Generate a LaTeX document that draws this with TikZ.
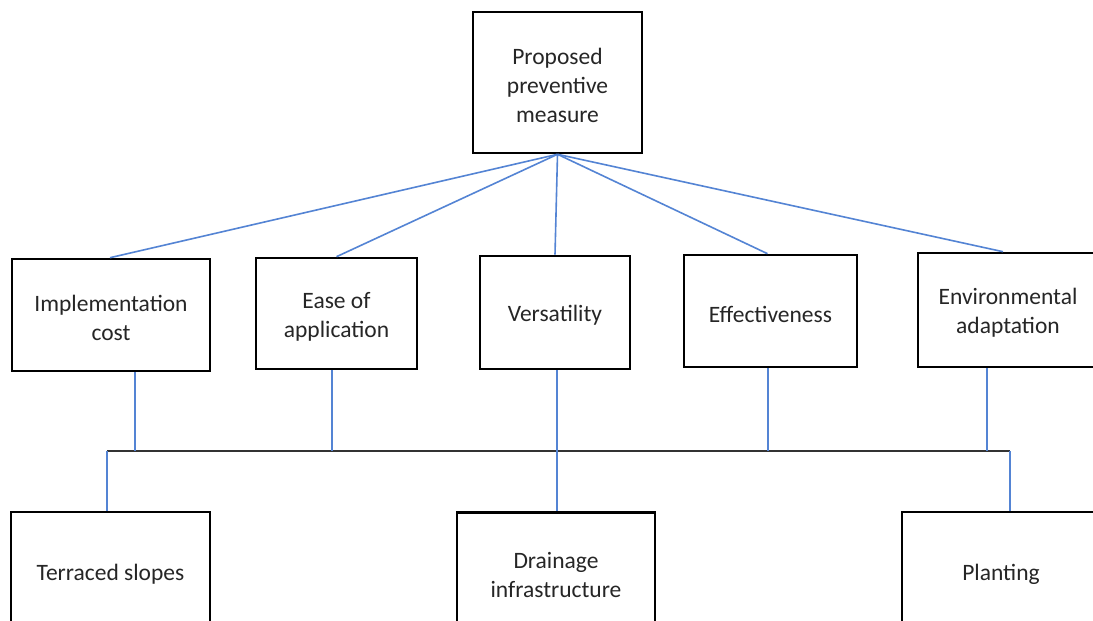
\documentclass[tikz,border=0pt]{standalone}
\usepackage{fontspec}
\setmainfont{Carlito}
\definecolor{linkblue}{RGB}{84,132,212}
\definecolor{txt}{RGB}{38,38,38}
\begin{document}
\begin{tikzpicture}[x=1pt,y=-1pt,
  box/.style={draw=black,line width=2.6pt,rectangle,inner sep=0pt},
  lab/.style={inner sep=0pt,align=center,yshift=-3pt,
    font=\fontsize{23.5}{29}\selectfont,text=txt},
  link/.style={draw=linkblue,line width=1.6pt},
  bus/.style={draw=black!80,line width=1.5pt}]
\clip (0,0) rectangle (1093,621);
\fill[white] (0,0) rectangle (1093,621);
% top
\node[box,minimum width=169pt,minimum height=141pt,label={[lab]center:Proposed\\preventive\\measure}] (top) at (557.5,82.5) {};
% criteria
\node[box,minimum width=198pt,minimum height=112pt,label={[lab]center:Implementation\\cost}] (impl) at (111,315) {};
\node[box,minimum width=161pt,minimum height=111pt,label={[lab]center:Ease of\\application}] (ease) at (336.5,313.5) {};
\node[box,minimum width=150pt,minimum height=113pt,label={[lab]center:Versatility}] (vers) at (555,312.5) {};
\node[box,minimum width=173pt,minimum height=112pt,label={[lab]center:Effectiveness}] (eff) at (770.5,311) {};
\node[box,minimum width=180pt,minimum height=114pt,label={[lab]center:Environmental\\adaptation}] (env) at (1008,310) {};
% alternatives
\node[box,minimum width=199pt,minimum height=118pt,label={[lab]center:Terraced slopes}] (terr) at (110.5,571) {};
\node[box,minimum width=198pt,minimum height=118pt,label={[lab]center:Drainage\\infrastructure}] (drain) at (556,571.5) {};
\node[box,minimum width=198pt,minimum height=118pt,label={[lab]center:Planting}] (plant) at (1001,571) {};
% top links
\draw[link] (top.south) -- ([xshift=-1pt]impl.north);
\draw[link] (top.south) -- (ease.north);
\draw[link] (top.south) -- (vers.north);
\draw[link] (top.south) -- ([xshift=-3pt]eff.north);
\draw[link] (top.south) -- ([xshift=-5pt]env.north);
% bus
\coordinate (busL) at (107,451);
\coordinate (busR) at (1010,451);
\coordinate (c1) at (135,451);
\coordinate (c2) at (332,451);
\coordinate (c3) at (557,451);
\coordinate (c4) at (768,451);
\coordinate (c5) at (987,451);
\draw[bus] (busL) -- (busR);
\draw[link] (impl.south -| c1) -- (c1);
\draw[link] (ease.south -| c2) -- (c2);
\draw[link] (vers.south -| c3) -- (drain.north -| c3);
\draw[link] (eff.south -| c4) -- (c4);
\draw[link] (env.south -| c5) -- (c5);
\draw[link] (busL) -- (terr.north -| busL);
\draw[link] (busR) -- (plant.north -| busR);
\end{tikzpicture}
\end{document}
